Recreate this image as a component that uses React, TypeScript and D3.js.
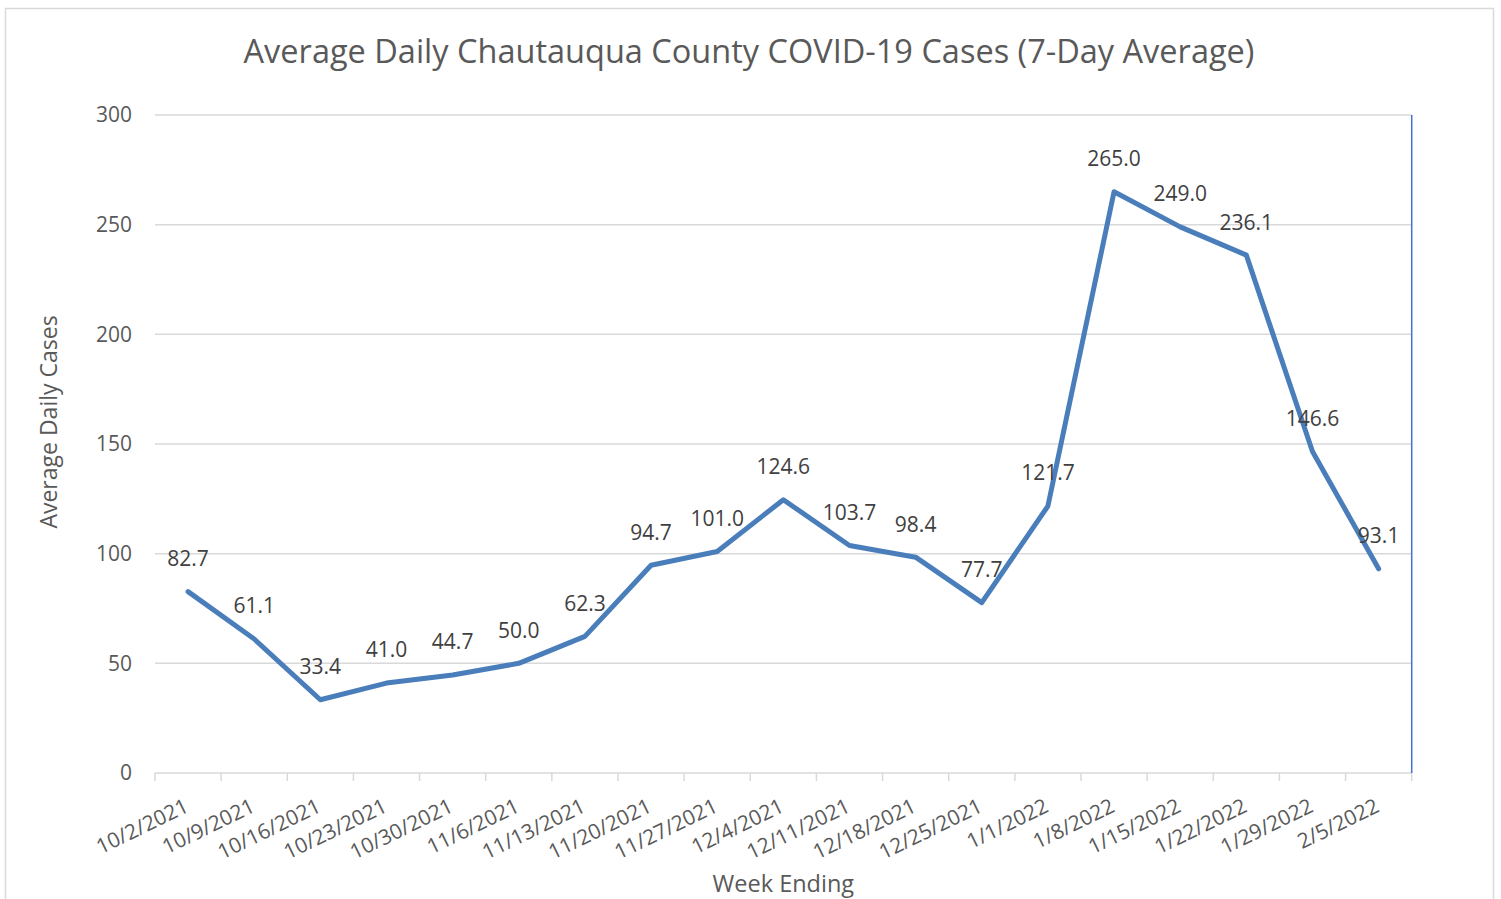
import React from "react";
import * as d3 from "d3";

const categories = [
  "10/2/2021", "10/9/2021", "10/16/2021", "10/23/2021", "10/30/2021", "11/6/2021",
  "11/13/2021", "11/20/2021", "11/27/2021", "12/4/2021", "12/11/2021", "12/18/2021",
  "12/25/2021", "1/1/2022", "1/8/2022", "1/15/2022", "1/22/2022", "1/29/2022", "2/5/2022",
];
const values = [82.7, 61.1, 33.4, 41.0, 44.7, 50.0, 62.3, 94.7, 101.0, 124.6, 103.7, 98.4, 77.7, 121.7, 265.0, 249.0, 236.1, 146.6, 93.1];
const yTicks = [0, 50, 100, 150, 200, 250, 300];

const W = 1501;
const H = 899;
const FONT = "'Open Sans', 'Noto Sans', sans-serif";

export default function App() {
  const left = 155;
  const right = 1411.7;
  const top = 115;
  const bottom = 773;
  const x = d3.scaleBand<string>().domain(categories).range([left, right]).paddingInner(0).paddingOuter(0);
  const y = d3.scaleLinear().domain([0, 300]).range([bottom, top]);
  const cx = (c: string) => (x(c) as number) + x.bandwidth() / 2;
  const line = d3
    .line<number>()
    .x((_, i) => cx(categories[i]))
    .y((v) => y(v));
  const boundaries = categories.map((c) => x(c) as number).concat([right]);

  return (
    <svg width={W} height={H} style={{ position: "absolute", left: 0, top: 0, background: "#fff" }} fontFamily={FONT}>
      <rect x={5.5} y={8.5} width={1488} height={900} fill="#fff" stroke="#d9d9d9" strokeWidth={1.5} />
      <text x={749} y={63} textAnchor="middle" fontSize={32.5} fill="#595959">
        Average Daily Chautauqua County COVID-19 Cases (7-Day Average)
      </text>
      {yTicks.map((t) => (
        <g key={t}>
          {t > 0 && <line x1={left} x2={right} y1={y(t)} y2={y(t)} stroke="#d9d9d9" strokeWidth={1.5} />}
          <text x={132} y={y(t)} dy="0.35em" textAnchor="end" fontSize={21} fill="#595959">
            {t}
          </text>
        </g>
      ))}
      <line x1={left} x2={right} y1={bottom} y2={bottom} stroke="#d9d9d9" strokeWidth={1.5} />
      {boundaries.map((b, i) => (
        <line key={i} x1={b} x2={b} y1={bottom} y2={bottom + 8} stroke="#d9d9d9" strokeWidth={1.5} />
      ))}
      <line x1={right} x2={right} y1={top} y2={bottom} stroke="#4472c4" strokeWidth={1.5} />
      <path d={line(values) || ""} fill="none" stroke="#4a7ebb" strokeWidth={5} strokeLinejoin="round" strokeLinecap="round" />
      {values.map((v, i) => (
        <text key={i} x={cx(categories[i])} y={y(v) - 33} dy="0.35em" textAnchor="middle" fontSize={21} fill="#404040">
          {v.toFixed(1)}
        </text>
      ))}
      {categories.map((c) => (
        <text
          key={c}
          transform={`translate(${cx(c) + 2},${811}) rotate(-26)`}
          textAnchor="end"
          fontSize={21}
          fill="#595959"
        >
          {c}
        </text>
      ))}
      <text x={(left + right) / 2} y={892} textAnchor="middle" fontSize={23.5} fill="#595959">
        Week Ending
      </text>
      <text transform={`translate(57,422) rotate(-90)`} textAnchor="middle" fontSize={23} fill="#595959">
        Average Daily Cases
      </text>
    </svg>
  );
}
